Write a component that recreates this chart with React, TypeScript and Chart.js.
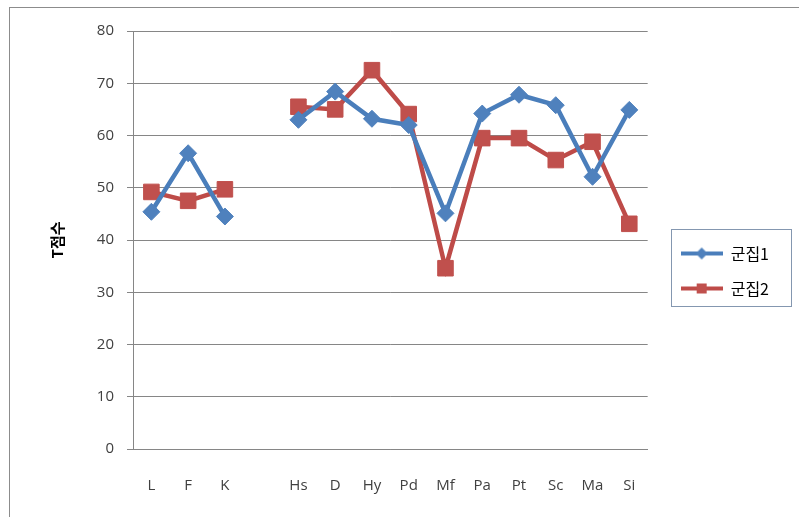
import React, { useEffect, useRef } from 'react';
import { Chart, registerables } from 'chart.js';

Chart.register(...registerables);

const categories = ['L', 'F', 'K', '', 'Hs', 'D', 'Hy', 'Pd', 'Mf', 'Pa', 'Pt', 'Sc', 'Ma', 'Si'];
const cluster1 = [45.4, 56.6, 44.5, null, 63.0, 68.4, 63.2, 62.0, 45.1, 64.2, 67.8, 65.8, 52.1, 64.9];
const cluster2 = [49.2, 47.5, 49.7, null, 65.5, 65.0, 72.5, 64.1, 34.6, 59.5, 59.5, 55.3, 58.8, 43.1];
const seriesNames = ['군집1', '군집2'];
const yMin = 0;
const yMax = 80;
const yStep = 10;
const yTitle = 'T점수';

const BLUE_LINE = '#4a7ebb';
const BLUE_FILL = '#4f81bd';
const RED_LINE = '#be4b48';
const RED_FILL = '#c0504d';

function makeIcon(line: string, fill: string, kind: 'diamond' | 'square') {
  const c = document.createElement('canvas');
  c.width = 42;
  c.height = 16;
  const ctx = c.getContext('2d')!;
  ctx.strokeStyle = line;
  ctx.lineWidth = 4;
  ctx.beginPath();
  ctx.moveTo(0, 8);
  ctx.lineTo(42, 8);
  ctx.stroke();
  ctx.fillStyle = fill;
  ctx.beginPath();
  if (kind === 'diamond') {
    ctx.moveTo(21, 2);
    ctx.lineTo(27, 8);
    ctx.lineTo(21, 14);
    ctx.lineTo(15, 8);
    ctx.closePath();
  } else {
    ctx.rect(16, 3, 10, 10);
  }
  ctx.fill();
  return c;
}

export default function App() {
  const ref = useRef<HTMLCanvasElement | null>(null);

  useEffect(() => {
    if (!ref.current) return;
    const icons = [makeIcon(BLUE_LINE, BLUE_FILL, 'diamond'), makeIcon(RED_LINE, RED_FILL, 'square')];

    const legendPlugin = {
      id: 'legendTweak',
      afterLayout(chart: any) {
        const lg = chart.legend;
        if (!lg) return;
        lg.left += 14;
        lg.right += 14;
        lg.top -= 3;
        lg.bottom -= 3;
      },
      afterDraw(chart: any) {
        const lg = chart.legend;
        if (!lg || !lg.legendHitBoxes || !lg.legendHitBoxes.length) return;
        const hb = lg.legendHitBoxes;
        const first = hb[0];
        const last = hb[hb.length - 1];
        const ctx = chart.ctx;
        ctx.save();
        ctx.strokeStyle = '#8497b0';
        ctx.lineWidth = 1;
        const x0 = Math.round(first.left - 10) + 0.5;
        const y0 = Math.round(first.top - 17) + 0.5;
        const y1 = Math.round(last.top + last.height + 9) + 0.5;
        ctx.strokeRect(x0, y0, 120, y1 - y0);
        ctx.restore();
      },
    };

    const chart = new Chart(ref.current, {
      type: 'line',
      data: {
        labels: categories,
        datasets: [
          {
            label: seriesNames[0],
            data: cluster1,
            borderColor: BLUE_LINE,
            backgroundColor: BLUE_FILL,
            borderWidth: 4.5,
            pointStyle: 'rectRot',
            pointRadius: 8.5,
            pointBorderWidth: 1,
            pointBorderColor: BLUE_FILL,
            pointBackgroundColor: BLUE_FILL,
            spanGaps: false,
            tension: 0,
          },
          {
            label: seriesNames[1],
            data: cluster2,
            borderColor: RED_LINE,
            backgroundColor: RED_FILL,
            borderWidth: 4.5,
            pointStyle: 'rect',
            pointRadius: 11,
            pointBorderWidth: 1,
            pointBorderColor: RED_FILL,
            pointBackgroundColor: RED_FILL,
            spanGaps: false,
            tension: 0,
          },
        ],
      },
      options: {
        responsive: false,
        animation: false,
        layout: { padding: { left: 0, top: 31, right: 34, bottom: 0 } },
        plugins: {
          tooltip: { enabled: false },
          legend: {
            display: true,
            position: 'right',
            labels: {
              usePointStyle: true,
              pointStyleWidth: 42,
              padding: 19,
              color: '#000000',
              font: { family: "'Noto Sans CJK KR', 'Noto Sans', sans-serif", size: 16 },
              generateLabels: (chart: any) => {
                const items = (Chart.defaults.plugins.legend.labels as any).generateLabels(chart);
                items.forEach((it: any, i: number) => {
                  it.pointStyle = icons[i];
                  it.rotation = 0;
                });
                return items;
              },
            },
          },
        },
        scales: {
          x: {
            offset: true,
            grid: { display: false, drawTicks: false },
            border: { display: true, color: '#868686', width: 1 },
            ticks: {
              color: '#404040',
              padding: 28,
              autoSkip: false,
              maxRotation: 0,
              font: { family: "'Open Sans', 'DejaVu Sans', sans-serif", size: 15 },
            },
            afterFit: (s: any) => {
              s.height = 68;
            },
          },
          y: {
            min: yMin,
            max: yMax,
            ticks: {
              stepSize: yStep,
              color: '#404040',
              padding: 13,
              font: { family: "'Open Sans', 'DejaVu Sans', sans-serif", size: 15 },
            },
            grid: { color: '#868686', lineWidth: 1, tickLength: 6, drawTicks: true },
            border: { display: true, color: '#868686', width: 1 },
            title: {
              display: true,
              text: yTitle,
              color: '#000000',
              padding: { top: 48, bottom: 0 },
              font: { family: "'Noto Sans CJK KR', sans-serif", size: 15, weight: 'bold' },
            },
            afterFit: (s: any) => {
              s.width = 133;
            },
          },
        },
      },
      plugins: [legendPlugin],
    } as any);

    return () => chart.destroy();
  }, []);

  return (
    <div
      style={{
        position: 'absolute',
        left: 0,
        top: 0,
        width: 799,
        height: 517,
        overflow: 'hidden',
        background: '#ffffff',
      }}
    >
      <div
        style={{
          position: 'absolute',
          left: 9,
          top: 7,
          width: 900,
          height: 600,
          border: '1px solid #8c8c8c',
        }}
      />
      <canvas
        ref={ref}
        width={799}
        height={517}
        style={{ position: 'absolute', left: 0, top: 0, width: 799, height: 517 }}
      />
    </div>
  );
}
